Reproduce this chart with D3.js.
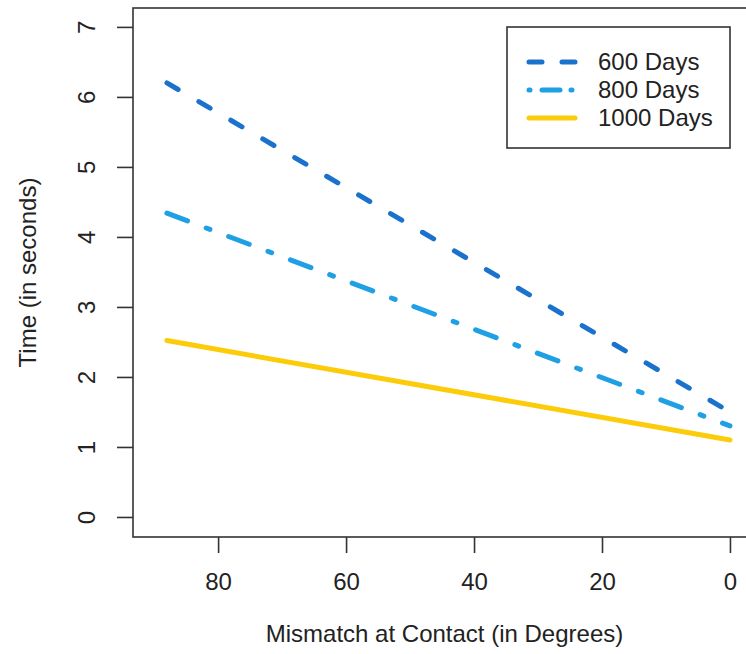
<!DOCTYPE html>
<html>
<head>
<meta charset="utf-8">
<script src="https://cdn.jsdelivr.net/npm/d3@7"></script>
<style>
  body { margin: 0; background: #fff; }
  text { font-family: "Liberation Sans", Arial, sans-serif; fill: #222; }
</style>
</head>
<body>
<script>
// values
const mismatch = [88, 0];
const days600 = [6.2, 1.5];
const days800 = [4.34, 1.3];
const days1000 = [2.52, 1.1];
const seriesNames = ['600 Days', '800 Days', '1000 Days'];
const xTicks = [0, 20, 40, 60, 80];
const yTicks = [0, 1, 2, 3, 4, 5, 6, 7];

const width = 746;
const height = 654;
const plot = { left: 133, top: 8, bottom: 537, right: 753 };

const series = [
  { name: seriesNames[0], values: days600, color: '#1a72cc', dash: '13 24' },
  { name: seriesNames[1], values: days800, color: '#1fa0e4', dash: '22 20 4 20' },
  { name: seriesNames[2], values: days1000, color: '#fccc0a', dash: null }
];

const xScale = d3.scaleLinear()
  .domain([93.3, -3.6])
  .range([plot.left, plot.right]);

const yScale = d3.scaleLinear()
  .domain([-0.286, 7.27])
  .range([plot.bottom, plot.top]);

const svg = d3.select('body')
  .append('svg')
  .attr('width', width)
  .attr('height', height);

// lines
const line = d3.line()
  .x(d => xScale(d[0]))
  .y(d => yScale(d[1]));

svg.selectAll('.series').data(series)
  .enter()
  .append('path')
  .attr('class', 'series')
  .attr('d', s => line(mismatch.map((m, i) => [m, s.values[i]])))
  .attr('fill', 'none')
  .attr('stroke', s => s.color)
  .attr('stroke-width', 5)
  .attr('stroke-linecap', 'round')
  .attr('stroke-dasharray', s => s.dash);

// box
svg.append('rect')
  .attr('x', plot.left)
  .attr('y', plot.top)
  .attr('width', plot.right - plot.left)
  .attr('height', plot.bottom - plot.top)
  .attr('fill', 'none')
  .attr('stroke', '#333')
  .attr('stroke-width', 1.6);

// x axis
const xAxis = d3.axisBottom(xScale)
  .tickValues(xTicks)
  .tickSize(16)
  .tickPadding(20)
  .tickFormat(d3.format('d'));

const gx = svg.append('g')
  .attr('transform', `translate(0, ${plot.bottom})`)
  .call(xAxis);
gx.select('.domain').remove();
gx.selectAll('line').attr('stroke', '#333').attr('stroke-width', 1.6);
gx.selectAll('text')
  .style('font-size', '24px')
  .style('font-family', '"Liberation Sans", Arial, sans-serif')
  .attr('fill', '#222');

// y axis
const yAxis = d3.axisLeft(yScale)
  .tickValues(yTicks)
  .tickSize(16)
  .tickFormat(d3.format('d'));

const gy = svg.append('g')
  .attr('transform', `translate(${plot.left}, 0)`)
  .call(yAxis);
gy.select('.domain').remove();
gy.selectAll('line').attr('stroke', '#333').attr('stroke-width', 1.6);
gy.selectAll('text')
  .attr('x', null)
  .attr('transform', 'translate(-46, 0) rotate(-90)')
  .attr('dy', '0.35em')
  .style('text-anchor', 'middle')
  .style('font-size', '24px')
  .style('font-family', '"Liberation Sans", Arial, sans-serif')
  .attr('fill', '#222');

// axis titles
svg.append('text')
  .attr('x', (plot.left + 730) / 2 + 13)
  .attr('y', 642)
  .style('text-anchor', 'middle')
  .style('font-size', '24px')
  .text('Mismatch at Contact (in Degrees)');

svg.append('text')
  .attr('transform', `translate(36, ${(plot.top + plot.bottom) / 2}) rotate(-90)`)
  .style('text-anchor', 'middle')
  .style('font-size', '24px')
  .text('Time (in seconds)');

// legend
const legend = svg.append('g');
legend.append('rect')
  .attr('x', 507)
  .attr('y', 27)
  .attr('width', 223)
  .attr('height', 121)
  .attr('fill', '#fff')
  .attr('stroke', '#333')
  .attr('stroke-width', 1.6);

const rows = legend.selectAll('.row').data(series)
  .enter()
  .append('g')
  .attr('class', 'row')
  .attr('transform', (d, i) => `translate(0, ${62 + i * 28})`);

rows.append('line')
  .attr('x1', 529)
  .attr('x2', 575)
  .attr('stroke', d => d.color)
  .attr('stroke-width', 5)
  .attr('stroke-linecap', 'round')
  .attr('stroke-dasharray', (d, i) => i === 0 ? '13 20' : i === 1 ? '1 12 18 11' : null);

rows.append('text')
  .attr('x', 598)
  .attr('dy', '0.35em')
  .style('font-size', '24px')
  .text(d => d.name);
</script>
</body>
</html>
